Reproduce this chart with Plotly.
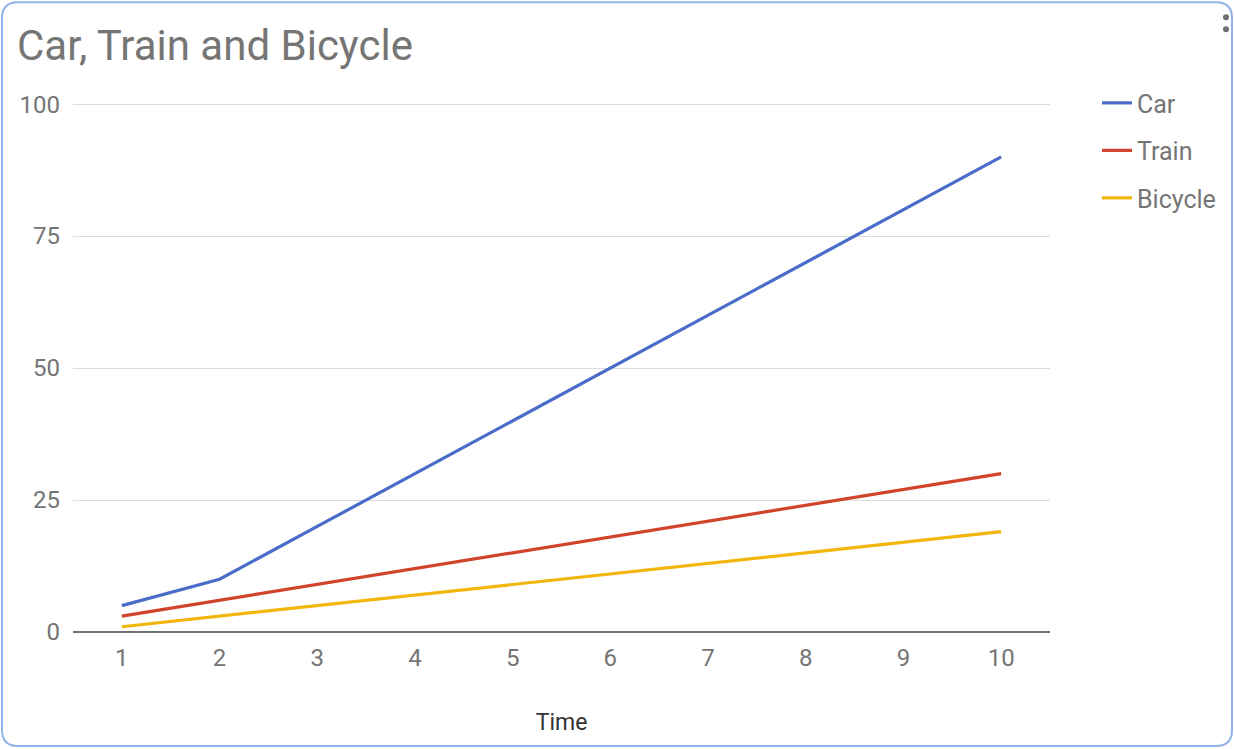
import plotly.graph_objects as go

time = [1, 2, 3, 4, 5, 6, 7, 8, 9, 10]
car = [5, 10, 20, 30, 40, 50, 60, 70, 80, 90]
train = [3, 6, 9, 12, 15, 18, 21, 24, 27, 30]
bicycle = [1, 3, 5, 7, 9, 11, 13, 15, 17, 19]
y_ticks = [0, 25, 50, 75, 100]

W, H = 1234, 749
YMAX = 100.4
L, R, B = 73, 1050, 632
T = B - (B - 104) * YMAX / 100

def px(x):
    return (x - L) / (R - L)

def py(y):
    return (B - y) / (B - T)

fig = go.Figure()
series = [("Car", car, "#4a6cc9"), ("Train", train, "#d2432c"), ("Bicycle", bicycle, "#f2b50a")]
for name, vals, col in series:
    fig.add_trace(go.Scatter(x=time, y=vals, name=name, mode="lines",
                             line=dict(color=col, width=3.2), legendgroup=name))

# rounded border
x0, x1, y0, y1, r = 2, 1232, 2, 746, 16
path = (f"M {px(x0+r)},{py(y0)} L {px(x1-r)},{py(y0)} "
        f"Q {px(x1)},{py(y0)} {px(x1)},{py(y0+r)} L {px(x1)},{py(y1-r)} "
        f"Q {px(x1)},{py(y1)} {px(x1-r)},{py(y1)} L {px(x0+r)},{py(y1)} "
        f"Q {px(x0)},{py(y1)} {px(x0)},{py(y1-r)} L {px(x0)},{py(y0+r)} "
        f"Q {px(x0)},{py(y0)} {px(x0+r)},{py(y0)} Z")
fig.add_shape(type="path", path=path, xref="paper", yref="paper",
              line=dict(color="#8fb3e6", width=2), layer="above")

# menu dots
for cy in (17, 29):
    fig.add_shape(type="circle", xref="paper", yref="paper",
                  x0=px(1223), x1=px(1229), y0=py(cy + 3), y1=py(cy - 3),
                  fillcolor="#707070", line=dict(width=0))

fig.update_layout(
    width=W, height=H,
    margin=dict(l=L, r=W - R, t=T, b=H - B),
    paper_bgcolor="white", plot_bgcolor="white",
    font=dict(family="Roboto", color="#757575"),
    title=dict(text="Car, Train and Bicycle", x=17 / W, xref="container", xanchor="left",
               y=1 - 45 / H, yref="container", yanchor="middle",
               font=dict(size=42, color="#757575")),
    xaxis=dict(range=[0.5, 10.5], tickvals=time, ticktext=[str(t) for t in time],
               showgrid=False, zeroline=False, showline=False,
               tickfont=dict(size=24, color="#757575"), ticks="", ticklabelstandoff=9,
               title=dict(text="Time", font=dict(size=23, color="#333333"), standoff=42)),
    yaxis=dict(range=[0, YMAX], tickvals=y_ticks, showgrid=True, gridcolor="#dcdcdc", gridwidth=1,
               zeroline=True, zerolinecolor="#707070", zerolinewidth=2,
               tickfont=dict(size=24, color="#757575"), ticks="", ticklabelstandoff=12),
    legend=dict(x=px(1097), y=py(80), xanchor="left", yanchor="top",
                font=dict(size=25, color="#757575"), tracegroupgap=12,
                itemwidth=30, bgcolor="rgba(0,0,0,0)"),
    showlegend=True,
)

fig.write_html("out.html", config={"displayModeBar": False},
               post_script="document.body.style.margin='0px';")
